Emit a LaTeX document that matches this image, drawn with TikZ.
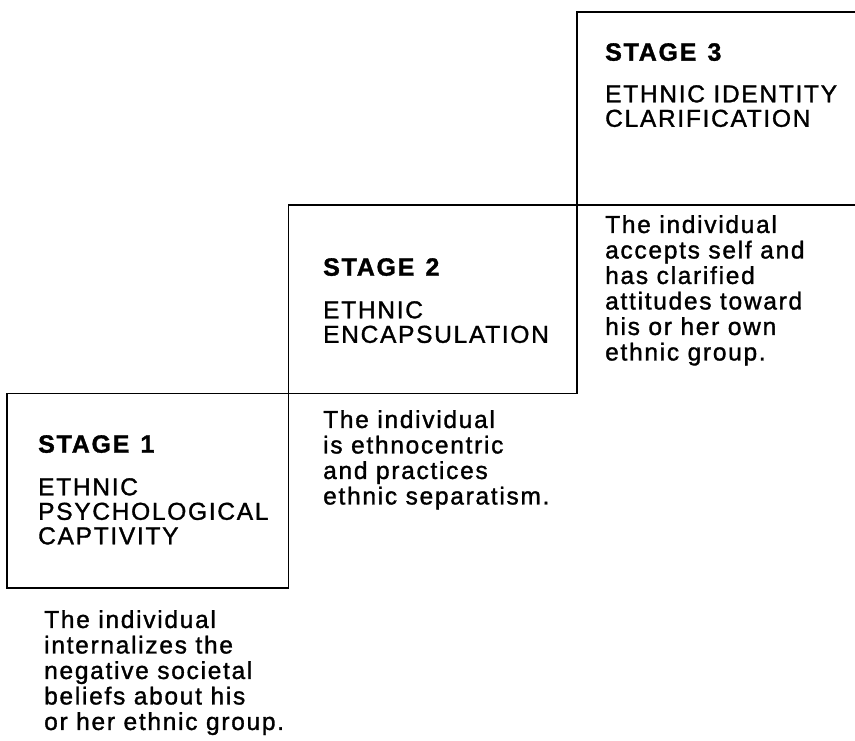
\documentclass[tikz,border=0pt]{standalone}
\usepackage{fontspec}
\setmainfont{Liberation Sans}[LetterSpace=7,FakeBold=1.3]
\begin{document}
\begin{tikzpicture}[x=1pt,y=-1pt,
  frame/.style={draw=none,inner sep=0pt,outer sep=0pt,anchor=north west},
  edge/.style={line width=1.6pt,line join=miter},
  stagelbl/.style={anchor=north west,inner sep=0pt,font=\fontsize{25}{25}\selectfont\bfseries},
  titletext/.style={anchor=north west,inner sep=0pt,align=left,font=\fontsize{24.5}{24.5}\selectfont},
  desctext/.style={anchor=north west,inner sep=0pt,align=left,font=\fontsize{24.5}{25.5}\selectfont}]
\useasboundingbox (0,0) rectangle (855,740);
% boxes
\node[frame,minimum width=281.5pt,minimum height=194.5pt] (b1) at (7,393.5) {};
\node[frame,minimum width=288.5pt,minimum height=188.5pt] (b2) at (288.5,205) {};
\node[frame,minimum width=278pt,minimum height=193pt] (b3) at (577,12) {};
\draw[edge] (b1.north west) rectangle (b1.south east);
\draw[edge] (b2.north west) rectangle (b2.south east);
\draw[edge] (b3.north east) -- (b3.north west) -- (b3.south west) -- (b3.south east);
% stage 1
\node[stagelbl] (s1) at (38,435) {STAGE\hspace{11pt}1};
\node[titletext] (t1) at (38,478) {ETHNIC\\PSYCHOLOGICAL\\CAPTIVITY};
\node[desctext] (d1) at (44,610) {The individual\\internalizes the\\negative societal\\beliefs about his\\or her ethnic group.};
% stage 2
\node[stagelbl] (s2) at (323,258) {STAGE\hspace{11pt}2};
\node[titletext] (t2) at (323,301) {ETHNIC\\ENCAPSULATION};
\node[desctext] (d2) at (323,410) {The individual\\is ethnocentric\\and practices\\ethnic separatism.};
% stage 3
\node[stagelbl] (s3) at (605,43) {STAGE\hspace{11pt}3};
\node[titletext] (t3) at (605,85) {ETHNIC IDENTITY\\CLARIFICATION};
\node[desctext] (d3) at (605,215) {The individual\\accepts self and\\has clarified\\attitudes toward\\his or her own\\ethnic group.};
\end{tikzpicture}
\end{document}
